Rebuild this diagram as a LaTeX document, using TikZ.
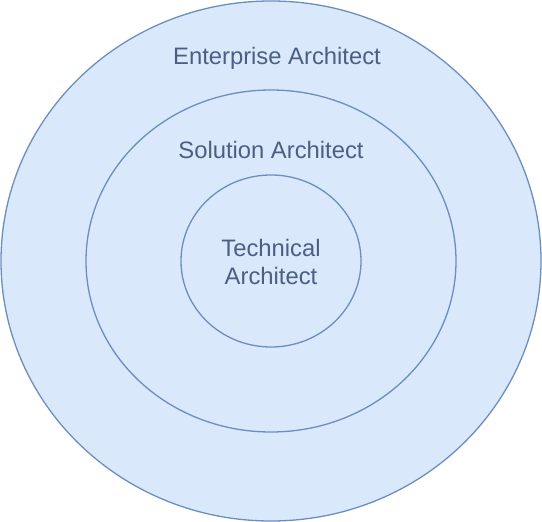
\documentclass[tikz,border=0pt]{standalone}
\usepackage{fontspec}
\setmainfont{Liberation Sans}
\definecolor{efill}{HTML}{DAE8FC}
\definecolor{estroke}{HTML}{6C8EBF}
\definecolor{etext}{HTML}{4B5F82}
\begin{document}
\begin{tikzpicture}[x=1bp,y=-1bp,
  ring/.style={draw=estroke,fill=efill,line width=1.3bp},
  lbl/.style={text=etext,font=\fontsize{23.8bp}{28bp}\selectfont,align=center,inner sep=0pt}]
\useasboundingbox (0,0) rectangle (542,522);
\path[ring] (271,261) ellipse [x radius=270,y radius=260];
\path[ring] (271,261) ellipse [x radius=185,y radius=171];
\path[ring] (271,261) ellipse [x radius=90,y radius=86];
\node[lbl] (ent) at (277,58) {Enterprise Architect};
\node[lbl] (sol) at (271,150) {Solution Architect};
\node[lbl] (tech) at (271,262) {Technical\\Architect};
\end{tikzpicture}
\end{document}
